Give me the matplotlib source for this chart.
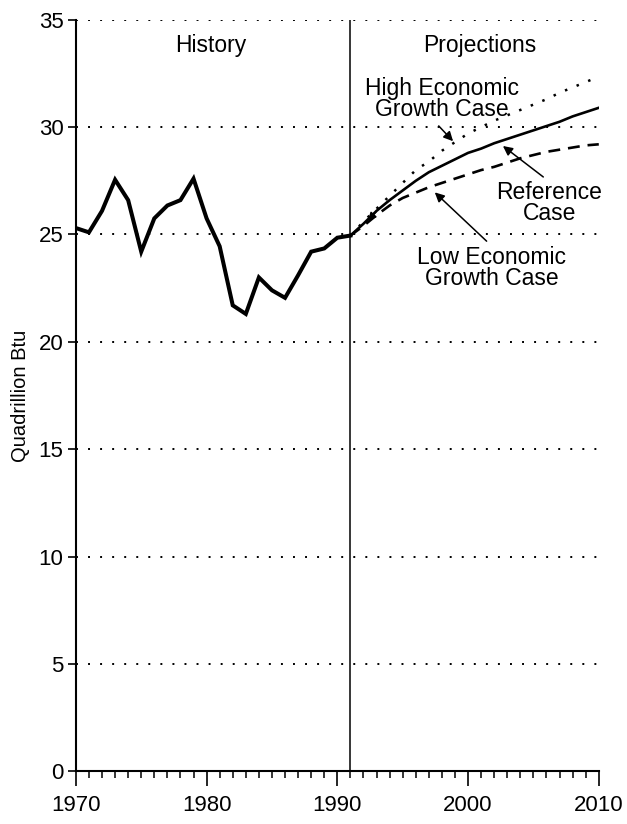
import matplotlib
matplotlib.use("Agg")
import matplotlib.pyplot as plt
from matplotlib.ticker import MultipleLocator

plt.rcParams['font.family'] = ['Liberation Sans', 'DejaVu Sans']

hist_years = list(range(1970, 1992))
hist_values = [25.3, 25.1, 26.1, 27.55, 26.6, 24.2, 25.75, 26.35, 26.6, 27.6,
               25.75, 24.45, 21.7, 21.3, 23.0, 22.4, 22.05, 23.1, 24.2, 24.35,
               24.85, 24.95]

proj_years = list(range(1991, 2011))
reference_case = [24.95, 25.5, 26.1, 26.6, 27.05, 27.5, 27.9, 28.2, 28.5, 28.8,
                  29.0, 29.25, 29.45, 29.65, 29.85, 30.05, 30.25, 30.5, 30.7, 30.9]
high_growth = [24.95, 25.6, 26.2, 26.8, 27.4, 28.0, 28.4, 28.9, 29.3, 29.7,
               30.0, 30.3, 30.55, 30.8, 31.05, 31.3, 31.6, 31.85, 32.1, 32.35]
low_growth = [24.95, 25.4, 25.9, 26.35, 26.7, 26.95, 27.2, 27.4, 27.6, 27.8,
              28.0, 28.15, 28.35, 28.55, 28.7, 28.85, 28.95, 29.05, 29.15, 29.2]

y_ticks = [0, 5, 10, 15, 20, 25, 30, 35]
x_ticks = [1970, 1980, 1990, 2000, 2010]
divider_year = 1991

fig = plt.figure(figsize=(6.27, 8.24), dpi=100)
ax = fig.add_axes([0.121, 0.064, 0.834, 0.912])

# grid lines
for yv in y_ticks[1:]:
    ax.plot([1970, 2010], [yv, yv], color='black', lw=1.4,
            linestyle=(0, (1, 5.2)), zorder=1)

ax.plot([divider_year, divider_year], [0, 35], color='black', lw=1.1, zorder=2)

ax.plot(hist_years, hist_values, color='black', lw=2.9, solid_joinstyle='miter', zorder=3)
ax.plot(proj_years, reference_case, color='black', lw=1.9, zorder=3)
ax.plot(proj_years, high_growth, color='black', lw=1.8, linestyle=(0, (1, 4)), zorder=3)
ax.plot(proj_years, low_growth, color='black', lw=1.9, linestyle=(0, (4.5, 3)), zorder=3)

ax.set_xlim(1970, 2010)
ax.set_ylim(0, 35)
ax.set_yticks(y_ticks)
ax.set_xticks(x_ticks)
ax.xaxis.set_minor_locator(MultipleLocator(1))
ax.tick_params(axis='y', direction='out', length=6, width=1.2, labelsize=16, pad=3)
ax.tick_params(axis='x', which='major', direction='out', length=11, width=1.2, labelsize=16, pad=6)
ax.tick_params(axis='x', which='minor', direction='out', length=5, width=1.1)
for s in ['top', 'right']:
    ax.spines[s].set_visible(False)
for s in ['left', 'bottom']:
    ax.spines[s].set_linewidth(1.5)

ax.set_ylabel('Quadrillion Btu', fontsize=14.5, labelpad=6)

ax.text(1980.3, 33.8, 'History', ha='center', va='center', fontsize=16.5)
ax.text(2000.9, 33.8, 'Projections', ha='center', va='center', fontsize=16.5)

arrow = dict(arrowstyle='-|>', color='black', lw=1.1, mutation_scale=14)
ax.annotate('High Economic\nGrowth Case', xy=(1999.0, 29.25), xytext=(1998.0, 31.3),
            ha='center', va='center', fontsize=16.5, linespacing=0.88,
            arrowprops=dict(arrow, relpos=(0.45, 0.0)))
ax.annotate('Reference\nCase', xy=(2002.5, 29.2), xytext=(2006.2, 26.45),
            ha='center', va='center', fontsize=16.5, linespacing=0.88,
            arrowprops=dict(arrow, relpos=(0.5, 1.0)))
ax.annotate('Low Economic\nGrowth Case', xy=(1997.3, 27.05), xytext=(2001.8, 23.45),
            ha='center', va='center', fontsize=16.5, linespacing=0.88,
            arrowprops=dict(arrow, relpos=(0.5, 1.0)))
ax.annotate('', xy=(1992.2, 25.55), xytext=(1993.1, 26.15),
            arrowprops=dict(arrowstyle='-|>', color='black', lw=1.0, mutation_scale=12))

fig.savefig('out.png', dpi=100)
